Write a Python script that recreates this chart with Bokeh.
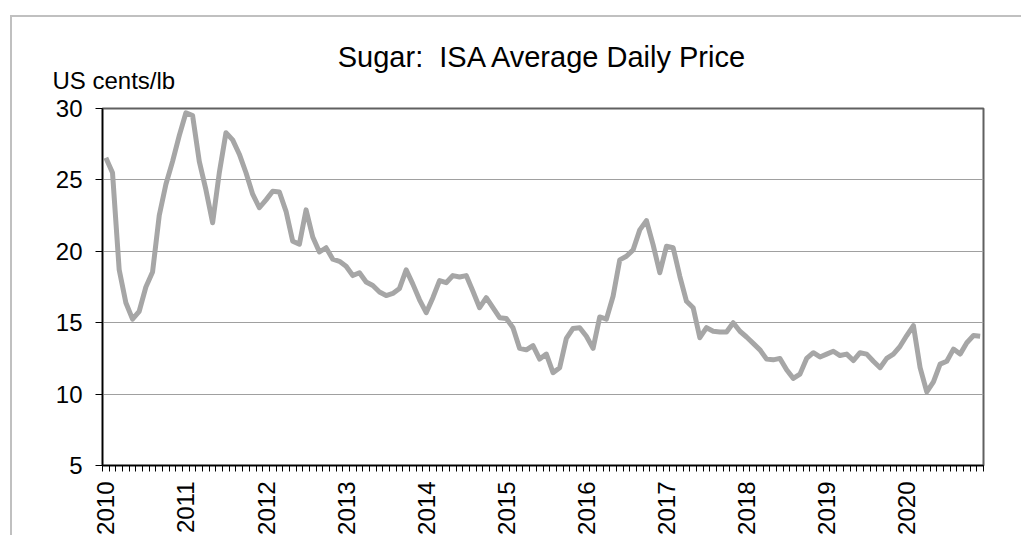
import math
from bokeh.plotting import figure
from bokeh.models import FixedTicker, Title, Range1d
from bokeh.embed import file_html
from bokeh.resources import INLINE

years = [str(y) for y in range(2010, 2021)]

p2010 = [26.55, 25.5, 18.7, 16.4, 15.25, 15.8, 17.5, 18.55, 22.5, 24.7, 26.3, 28.1]
p2011 = [29.7, 29.5, 26.3, 24.3, 22.0, 25.5, 28.3, 27.8, 26.8, 25.5, 24.0, 23.05]
p2012 = [23.6, 24.2, 24.15, 22.8, 20.7, 20.5, 22.9, 21.0, 19.95, 20.25, 19.45, 19.3]
p2013 = [18.95, 18.3, 18.5, 17.85, 17.6, 17.15, 16.9, 17.05, 17.4, 18.7, 17.7, 16.6]
p2014 = [15.7, 16.75, 17.95, 17.8, 18.3, 18.2, 18.3, 17.2, 16.05, 16.75, 16.05, 15.35]
p2015 = [15.3, 14.65, 13.2, 13.1, 13.4, 12.45, 12.8, 11.5, 11.85, 13.9, 14.6, 14.65]
p2016 = [14.05, 13.2, 15.4, 15.25, 16.85, 19.4, 19.65, 20.1, 21.5, 22.15, 20.45, 18.5]
p2017 = [20.35, 20.25, 18.25, 16.5, 16.05, 13.95, 14.65, 14.4, 14.35, 14.35, 15.0, 14.4]
p2018 = [14.0, 13.55, 13.1, 12.45, 12.4, 12.5, 11.7, 11.1, 11.4, 12.5, 12.9, 12.6]
p2019 = [12.8, 13.0, 12.7, 12.8, 12.35, 12.9, 12.8, 12.3, 11.85, 12.5, 12.8, 13.35]
p2020 = [14.1, 14.8, 11.85, 10.15, 10.85, 12.1, 12.3, 13.15, 12.8, 13.6, 14.1, 14.05]

prices = p2010 + p2011 + p2012 + p2013 + p2014 + p2015 + p2016 + p2017 + p2018 + p2019 + p2020
n = len(prices)
xs = [i + 0.5 for i in range(n)]

FONT = "Liberation Sans"

p = figure(width=1011, height=520, output_backend="svg", toolbar_location=None,
           x_range=Range1d(0, n), y_range=Range1d(5, 30),
           min_border_left=90, min_border_right=40, min_border_top=91, min_border_bottom=71,
           styles={"border-top": "2px solid #c0c0c0", "border-left": "2px solid #c0c0c0",
                   "margin-left": "10px", "margin-top": "15px"})
p.background_fill_color = "white"
p.border_fill_color = "white"
p.outline_line_color = "#606060"
p.outline_line_width = 2

p.line(xs, prices, line_color="#a6a6a6", line_width=5, line_join="round")

# y axis
p.yaxis.ticker = FixedTicker(ticks=[5, 10, 15, 20, 25, 30])
p.yaxis.major_label_text_font = FONT
p.yaxis.major_label_text_font_size = "24px"
p.yaxis.major_label_text_color = "black"
p.yaxis.major_tick_out = 7
p.yaxis.major_tick_in = 0
p.yaxis.major_tick_line_color = "black"
p.yaxis.minor_tick_line_color = None
p.yaxis.axis_line_color = "black"
p.yaxis.axis_line_width = 1.5
p.yaxis.major_label_standoff = 13

# x axis
label_pos = [12 * k + 0.5 for k in range(len(years))]
p.xaxis.ticker = FixedTicker(ticks=label_pos, minor_ticks=list(range(n + 1)))
p.xaxis.major_label_overrides = {pos: yr for pos, yr in zip(label_pos, years)}
p.xaxis.major_label_orientation = math.pi / 2
p.xaxis.major_label_text_font = FONT
p.xaxis.major_label_text_font_size = "24px"
p.xaxis.major_label_text_color = "black"
p.xaxis.major_tick_out = 0
p.xaxis.major_tick_in = 0
p.xaxis.minor_tick_out = 6
p.xaxis.minor_tick_in = 0
p.xaxis.minor_tick_line_color = "black"
p.xaxis.axis_line_color = "black"
p.xaxis.axis_line_width = 1.5
p.xaxis.major_label_standoff = 10

p.xgrid.grid_line_color = None
p.ygrid.ticker = FixedTicker(ticks=[10, 15, 20, 25])
p.ygrid.grid_line_color = "#a0a0a0"
p.ygrid.grid_line_width = 1

p.add_layout(Title(text="US cents/lb", align="left", offset=-50,
                   text_font=FONT, text_font_size="24px", text_font_style="normal",
                   text_color="black", standoff=29), "above")
p.title.text = "Sugar:\u00a0 ISA Average Daily Price"
p.title.align = "center"
p.title.offset = 0
p.title.standoff = -45
p.title.text_font = FONT
p.title.text_font_size = "29px"
p.title.text_font_style = "normal"
p.title.text_color = "black"

open("out.html", "w").write(file_html(p, INLINE))
